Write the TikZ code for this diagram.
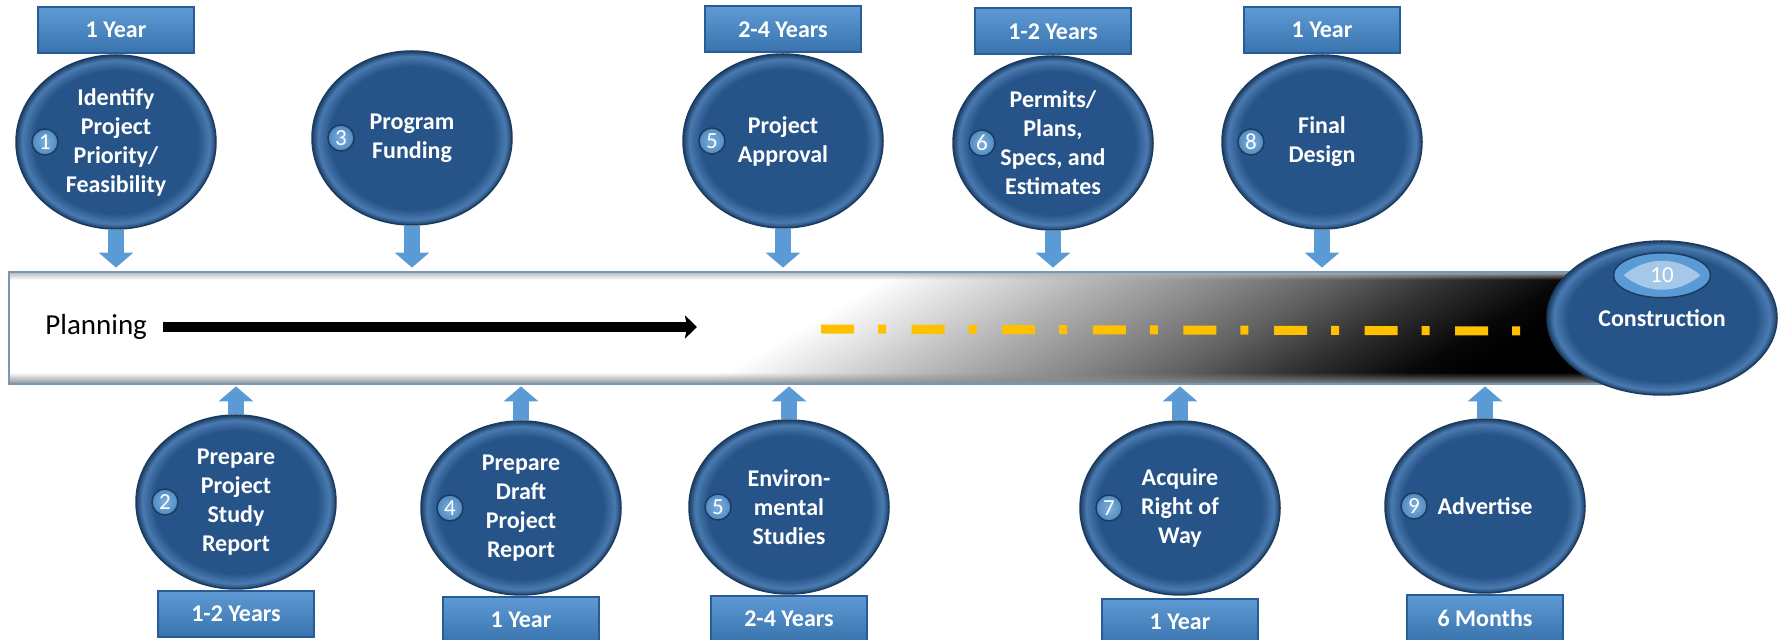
\documentclass[tikz,border=0pt]{standalone}
\usepackage{fontspec}
\setmainfont{Carlito}
\usepackage{tikz}
\usetikzlibrary{shapes.geometric,arrows.meta,positioning,fadings}
\definecolor{stepblue}{RGB}{38,84,136}
\definecolor{rimblue}{RGB}{74,122,176}
\definecolor{boxblue}{RGB}{66,136,204}
\definecolor{boxedge}{RGB}{40,92,150}
\definecolor{arrowblue}{RGB}{91,155,213}
\definecolor{laneyellow}{RGB}{255,192,0}
\definecolor{roadedge}{RGB}{120,150,185}
\pgfdeclarehorizontalshading{roadshade}{100bp}{color(0bp)=(white); color(49.6bp)=(white); color(52.65bp)=(black!15); color(55.8bp)=(black!31); color(59bp)=(black!46); color(62.2bp)=(black!62); color(65.4bp)=(black!81); color(68.6bp)=(black!97); color(70.2bp)=(black); color(100bp)=(black)}
\pgfdeclareradialshading{stepshade}{\pgfpoint{0bp}{0bp}}{color(0bp)=(stepblue); color(20.5bp)=(stepblue); color(23.5bp)=(rimblue); color(25bp)=(stepblue!75!black); color(50bp)=(stepblue!75!black)}
\tikzstyle{l1} = [ellipse, shade, shading=stepshade, draw=stepblue!70!black, line width=.75pt, minimum width=100pt, minimum height=87pt, inner sep=0pt, text=white, align=center, font=\bfseries\fontsize{12}{14.5}\selectfont]
\tikzstyle{l2} = [circle, inner color=arrowblue!80!white, outer color=arrowblue!90!black, draw=stepblue!70!black, line width=.75pt, minimum size=13pt, inner sep=0pt, text=white, font=\fontsize{11.5}{12}\selectfont]
\tikzstyle{l3} = [rectangle, top color=boxblue!85!white, bottom color=boxblue!85!black, draw=boxedge, line width=1pt, minimum width=78pt, minimum height=23pt, inner sep=0pt, text=white, font=\bfseries\fontsize{12}{14.5}\selectfont]
\tikzstyle{l4} = [rectangle, minimum width=805.5pt, minimum height=56pt, inner sep=0pt]
\tikzstyle{l5} = [l1, minimum width=115pt, minimum height=77pt]
\tikzstyle{l6} = [ellipse, fill=arrowblue, draw=stepblue!70!black, line width=.75pt, minimum width=48.5pt, minimum height=22.5pt, inner sep=0pt, text=white, font=\fontsize{11.5}{12}\selectfont, path picture={\fill[arrowblue!55!white] ([xshift=5pt]path picture bounding box.west) to[bend left=40] ([xshift=-5pt]path picture bounding box.east) to[bend left=40] cycle;}]
\tikzstyle{a1} = [arrowblue, line width=8pt, -{Triangle[length=7.5pt,width=17pt]}]

\begin{document}
\begin{tikzpicture}[x=0.5pt, y=-0.5pt]
\useasboundingbox (0,0) rectangle (1783,640);
\node(R)[l4] at (814.5,328) {};
\begin{scope}
\clip (R.south west) rectangle (R.north east);
\shade[shading=roadshade, transform canvas={shift={(R.center)}, xslant=1.7}] (-900,-56) rectangle (900,56);
\end{scope}
\fill[black!45, path fading=north] ([yshift=6pt]R.south west) rectangle (R.south east);
\fill[gray!60, path fading=south] (R.north west) rectangle ([yshift=-4pt]R.north east);
\draw[roadedge, line width=1pt] (R.south west) rectangle (R.north east);
\node(P)[anchor=west, inner sep=0pt, font=\fontsize{14.5}{17}\selectfont] at (45,327) {Planning};
\coordinate(Q) at (697,328);
\draw[line width=5pt, -{Stealth[length=6pt,width=11.5pt,inset=1pt]}, shorten <=8pt] (P.east) -- (P.east -| Q);
\coordinate(Y1) at (821,329);
\coordinate(Y2) at (1522,331);
\draw[laneyellow, line width=4.5pt, dash pattern=on 16.5pt off 12pt on 4pt off 12.8pt] (Y1) -- (Y2);

\node(A)[l1] at (116,142) {Identify\\Project\\Priority/\\Feasibility};
\node(B)[l1] at (236,502) {Prepare\\Project\\Study\\Report};
\node(C)[l1] at (412,138) {Program\\Funding};
\node(D)[l1] at (521,508) {Prepare\\Draft\\Project\\Report};
\node(E)[l1] at (783,141) {Project\\Approval};
\node(F)[l1] at (789,507) {Environ-\\mental\\Studies};
\node(G)[l1] at (1053,143) {Permits/\\Plans,\\Specs, and\\Estimates};
\node(H)[l1] at (1180,508) {Acquire\\Right of\\Way};
\node(I)[l1] at (1322,142) {Final\\Design};
\node(K)[l1] at (1485,506) {Advertise};
\node(J)[l5] at (1662,318) {Construction};

\node(nA)[l2, right=8pt of A.west] {1};
\node(nB)[l2, right=8pt of B.west] {2};
\node(nC)[l2, right=8pt of C.west] {3};
\node(nD)[l2, right=8pt of D.west] {4};
\node(nE)[l2, right=8pt of E.west] {5};
\node(nF)[l2, right=8pt of F.west] {5};
\node(nG)[l2, right=8pt of G.west] {6};
\node(nH)[l2, right=8pt of H.west] {7};
\node(nI)[l2, right=8pt of I.west] {8};
\node(nK)[l2, right=8pt of K.west] {9};
\node(nJ)[l6, above=9.75pt of J.center] {10};

\node(tA)[l3, above=0pt of A] {1 Year};
\node(tE)[l3, above=0pt of E] {2-4 Years};
\node(tG)[l3, above=0pt of G] {1-2 Years};
\node(tI)[l3, above=0pt of I] {1 Year};
\node(tB)[l3, below=0pt of B] {1-2 Years};
\node(tD)[l3, below=0pt of D] {1 Year};
\node(tF)[l3, below=0pt of F] {2-4 Years};
\node(tH)[l3, below=1pt of H] {1 Year};
\node(tK)[l3, below=0pt of K] {6 Months};

\foreach \s in {A,C,E,G,I}
  \draw[a1] (\s.south) -- ([yshift=2pt]\s.south |- R.north);
\foreach \s in {B,D,F,H,K}
  \draw[a1] (\s.north) -- ([yshift=-1pt]\s.north |- R.south);
\end{tikzpicture}
\end{document}
